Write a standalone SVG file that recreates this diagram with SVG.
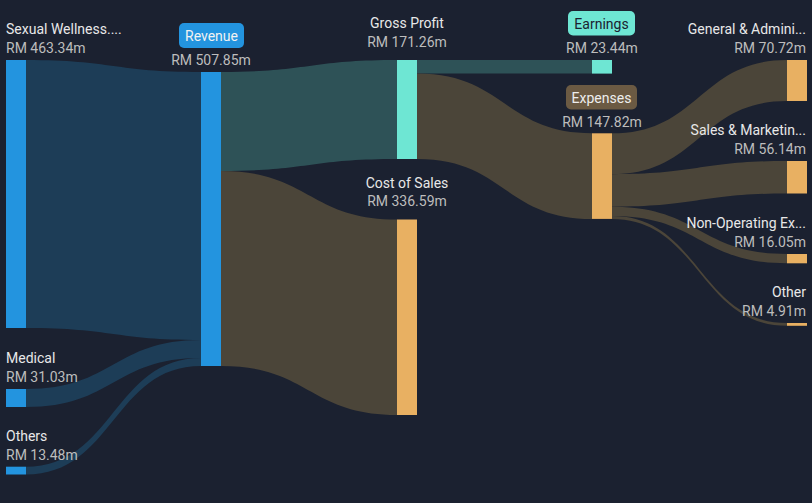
<svg xmlns="http://www.w3.org/2000/svg" width="812" height="503" viewBox="0 0 812 503">
<style>
.bg{fill:#1b2130}
.nb{fill:#2394df}
.nt{fill:#6ee6d3}
.no{fill:#e8b062}
.lb{fill:#1d3d57}
.lt{fill:#2e5257}
.lo{fill:#4b4539}
text{font-family:Roboto,"Liberation Sans",sans-serif;font-size:14px}
.name{fill:#e8e8e8}
.val{fill:#bdbdbd}
.s{text-anchor:start}
.m{text-anchor:middle}
.e{text-anchor:end}
</style>
<rect class="bg" x="0" y="0" width="812" height="503"/>
<g id="connectors">
<path class="lb" d="M26,60 C113.5,60 113.5,72 201,72 L201,340 C113.5,340 113.5,328 26,328 Z"/>
<path class="lb" d="M26,389 C113.5,389 113.5,340 201,340 L201,358 C113.5,358 113.5,407 26,407 Z"/>
<path class="lb" d="M26,466.7 C113.5,466.7 113.5,358 201,358 L201,366 C113.5,366 113.5,474.5 26,474.5 Z"/>
<path class="lt" d="M221,72 C309,72 309,60 397,60 L397,159 C309,159 309,171 221,171 Z"/>
<path class="lo" d="M221,171 C309,171 309,219.5 397,219.5 L397,415 C309,415 309,366 221,366 Z"/>
<path class="lt" d="M417,60 C504.5,60 504.5,60 592,60 L592,73.6 C504.5,73.6 504.5,73.6 417,73.6 Z"/>
<path class="lo" d="M417,73.6 C504.5,73.6 504.5,133.3 592,133.3 L592,219 C504.5,219 504.5,159 417,159 Z"/>
<path class="lo" d="M612,133.3 C699.5,133.3 699.5,60 787,60 L787,101 C699.5,101 699.5,174.2 612,174.2 Z"/>
<path class="lo" d="M612,174.2 C699.5,174.2 699.5,161 787,161 L787,193.5 C699.5,193.5 699.5,206.7 612,206.7 Z"/>
<path class="lo" d="M612,206.7 C699.5,206.7 699.5,254 787,254 L787,263.3 C699.5,263.3 699.5,216 612,216 Z"/>
<path class="lo" d="M612,216 C699.5,216 699.5,323 787,323 L787,325.8 C699.5,325.8 699.5,218.9 612,218.9 Z"/>
</g>
<g id="sexual-wellness">
<rect class="nb" x="6" y="60" width="20" height="268"/>
<text class="name s" x="6" y="34">Sexual Wellness....</text>
<text class="val s" x="6" y="53">RM 463.34m</text>
</g>
<g id="medical">
<rect class="nb" x="6" y="389" width="20" height="18"/>
<text class="name s" x="6" y="363">Medical</text>
<text class="val s" x="6" y="382">RM 31.03m</text>
</g>
<g id="others">
<rect class="nb" x="6" y="466.7" width="20" height="7.8"/>
<text class="name s" x="6" y="441">Others</text>
<text class="val s" x="6" y="460">RM 13.48m</text>
</g>
<g id="revenue">
<rect class="nb" x="201" y="72" width="20" height="294"/>
<rect class="nb" x="179" y="23" width="65" height="25" rx="5"/>
<text class="m" x="211.5" y="40.5" fill="#f2f2f2">Revenue</text>
<text class="val m" x="211" y="65">RM 507.85m</text>
</g>
<g id="gross-profit">
<rect class="nt" x="397" y="60" width="20" height="99"/>
<text class="name m" x="407" y="28">Gross Profit</text>
<text class="val m" x="407" y="47">RM 171.26m</text>
</g>
<g id="cost-of-sales">
<rect class="no" x="397" y="219.5" width="20" height="195.5"/>
<text class="name m" x="407" y="188">Cost of Sales</text>
<text class="val m" x="407" y="206">RM 336.59m</text>
</g>
<g id="earnings">
<rect class="nt" x="592" y="60" width="20" height="13.6"/>
<rect class="nt" x="568" y="11" width="67" height="24.5" rx="5"/>
<text class="m" x="601.5" y="28.5" fill="#1b2130">Earnings</text>
<text class="val m" x="602" y="53">RM 23.44m</text>
</g>
<g id="expenses">
<rect class="no" x="592" y="133.3" width="20" height="85.6"/>
<rect x="566" y="85" width="71" height="24.5" rx="5" fill="#6b5a43"/>
<text class="m" x="601.5" y="102.5" fill="#eeeeee">Expenses</text>
<text class="val m" x="602" y="127">RM 147.82m</text>
</g>
<g id="general-admin">
<rect class="no" x="787" y="60" width="20" height="41"/>
<text class="name e" x="806" y="34">General &amp; Admini...</text>
<text class="val e" x="806" y="53">RM 70.72m</text>
</g>
<g id="sales-marketing">
<rect class="no" x="787" y="161" width="20" height="32.5"/>
<text class="name e" x="806" y="135">Sales &amp; Marketin...</text>
<text class="val e" x="806" y="154">RM 56.14m</text>
</g>
<g id="non-operating">
<rect class="no" x="787" y="254" width="20" height="9.3"/>
<text class="name e" x="806" y="228">Non-Operating Ex...</text>
<text class="val e" x="806" y="247">RM 16.05m</text>
</g>
<g id="other">
<rect class="no" x="787" y="323" width="20" height="2.8"/>
<text class="name e" x="806" y="297">Other</text>
<text class="val e" x="806" y="316">RM 4.91m</text>
</g>
</svg>
